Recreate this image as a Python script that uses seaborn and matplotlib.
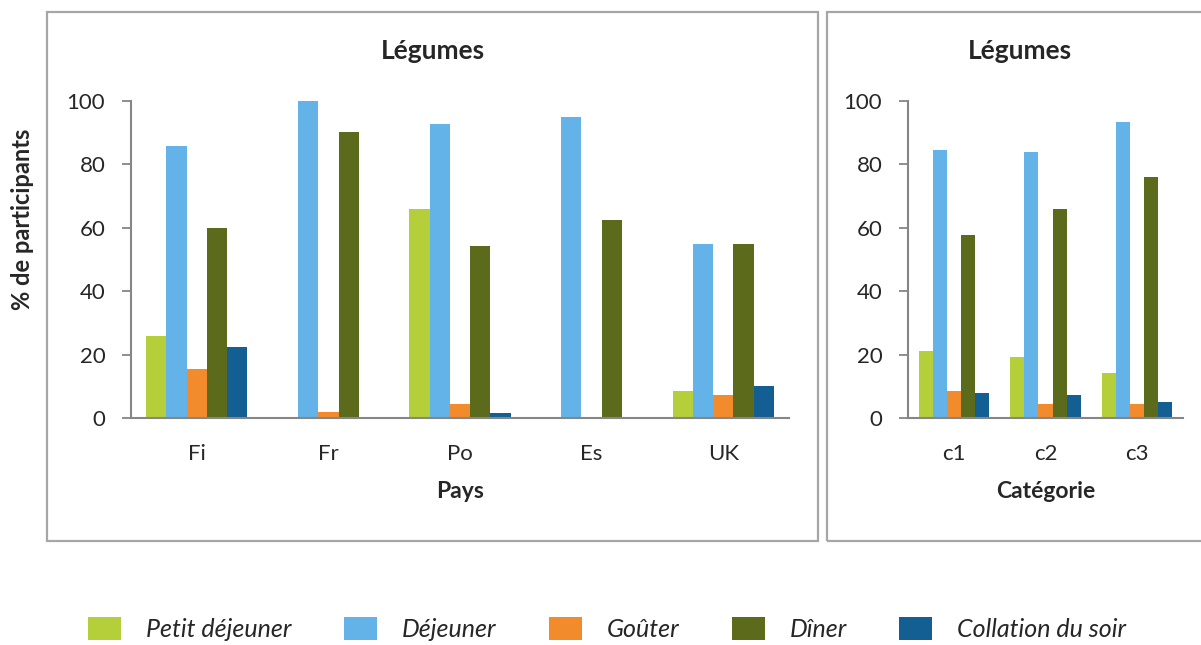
import matplotlib
matplotlib.use("Agg")
from matplotlib import pyplot as plt
from matplotlib.patches import Rectangle, Patch
import seaborn as sns
import pandas as pd

repas = ["Petit déjeuner", "Déjeuner", "Goûter", "Dîner", "Collation du soir"]
couleurs = ["#b5cf3b", "#63b2e8", "#f28b2b", "#5c6a1c", "#135f94"]

pays = ["Fi", "Fr", "Po", "Es", "UK"]
pays_vals = {
    "Petit déjeuner":    [26, 0, 65.8, 0, 8.5],
    "Déjeuner":          [85.8, 100, 92.8, 95, 55],
    "Goûter":            [15.4, 2, 4.4, 0, 7.2],
    "Dîner":             [60, 90.2, 54.4, 62.4, 55],
    "Collation du soir": [22.4, 0, 1.5, 0, 10],
}

categories = ["c1", "c2", "c3"]
cat_vals = {
    "Petit déjeuner":    [21, 19.2, 14.2],
    "Déjeuner":          [84.6, 83.8, 93.4],
    "Goûter":            [8.5, 4.4, 4.3],
    "Dîner":             [57.7, 66, 76],
    "Collation du soir": [7.9, 7.2, 5.1],
}


def to_long(groups, vals, col):
    rows = []
    for r in repas:
        for g, v in zip(groups, vals[r]):
            rows.append({col: g, "Repas": r, "val": v})
    return pd.DataFrame(rows)


df1 = to_long(pays, pays_vals, "Pays")
df2 = to_long(categories, cat_vals, "Catégorie")

sns.set_style("white")
plt.rcParams["font.family"] = ["Lato", "DejaVu Sans"]

W, H = 1201, 645
fig = plt.figure(figsize=(W / 100, H / 100), dpi=100)

# panel frames
fig.patches.append(Rectangle((47 / W, 1 - 541 / H), (818 - 47) / W, (541 - 12) / H,
                             transform=fig.transFigure, fill=False, ec="#a6a6a6", lw=1.6))
fig.patches.append(Rectangle((827 / W, 1 - 541 / H), (1205 - 827) / W, (541 - 12) / H,
                             transform=fig.transFigure, fill=False, ec="#a6a6a6", lw=1.6))

ax1 = fig.add_axes([131 / W, 1 - 418 / H, (789 - 131) / W, (418 - 101) / H])
ax2 = fig.add_axes([908 / W, 1 - 418 / H, (1183 - 908) / W, (418 - 101) / H])

sns.barplot(data=df1, x="Pays", y="val", hue="Repas", order=pays, hue_order=repas,
            palette=couleurs, width=0.77, saturation=1, legend=False, ax=ax1, linewidth=0)
sns.barplot(data=df2, x="Catégorie", y="val", hue="Repas", order=categories, hue_order=repas,
            palette=couleurs, width=0.77, saturation=1, legend=False, ax=ax2, linewidth=0)

for ax, n, lab in [(ax1, len(pays), "Pays"), (ax2, len(categories), "Catégorie")]:
    ax.set_xlim(-0.5, n - 0.5)
    ax.set_ylim(0, 100)
    ax.set_yticks([0, 20, 40, 60, 80, 100])
    ax.set_xticks([i - 0.5 for i in range(n + 1)], minor=True)
    ax.tick_params(axis="x", which="major", length=0, pad=19, labelsize=16)
    ax.tick_params(axis="x", which="minor", length=5, width=1.3, color="#868686", direction="out")
    ax.tick_params(axis="y", length=6.5, width=1.3, color="#868686", pad=12, labelsize=16, left=True)
    for s in ["top", "right"]:
        ax.spines[s].set_visible(False)
    for s in ["left", "bottom"]:
        ax.spines[s].set_color("#868686")
        ax.spines[s].set_linewidth(1.5)
    ax.set_xlabel(lab, fontsize=16.5, fontweight="bold", labelpad=12)
    ax.set_ylabel("")

fig.text(433 / W, 1 - 51 / H, "Légumes", ha="center", va="center", fontsize=19, fontweight="bold")
fig.text(1020 / W, 1 - 51 / H, "Légumes", ha="center", va="center", fontsize=19, fontweight="bold")
fig.text(23 / W, 1 - 219 / H, "% de participants", ha="center", va="center", rotation=90,
         fontsize=17, fontweight="bold")

handles = [Patch(facecolor=c, edgecolor="none") for c in couleurs]
fig.legend(handles, repas, loc="center", bbox_to_anchor=(607 / W, 1 - 629 / H), ncol=5,
           frameon=False, handlelength=1.32, handleheight=1.0, handletextpad=1.0,
           columnspacing=2.1, prop={"style": "italic", "size": 18})

plt.savefig("out.png", dpi=100)
